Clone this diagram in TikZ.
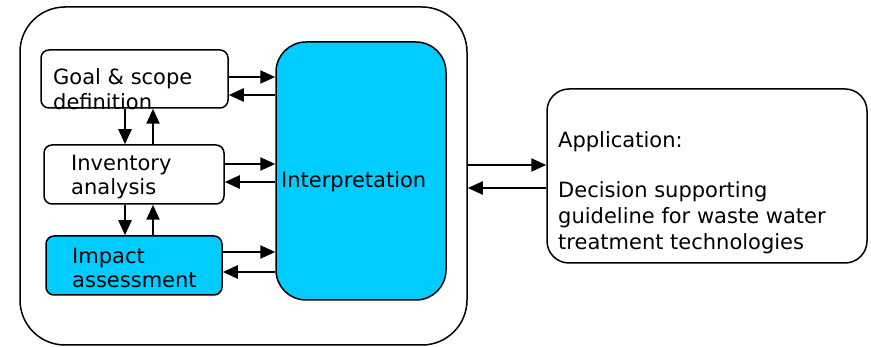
\documentclass[tikz,border=0pt]{standalone}
\usepackage{fontspec}
\setmainfont{DejaVu Sans}
\usetikzlibrary{arrows.meta}
\definecolor{lcacyan}{HTML}{00CCFF}
\begin{document}
\begin{tikzpicture}[x=1pt,y=-1pt,
  box/.style={draw=black,line width=1.5pt,rounded corners=#1,inner sep=0pt},
  box/.default=8pt,
  lbl/.style={anchor=west,inner sep=0pt,align=left,font=\fontsize{21}{24.5}\selectfont},
  flow/.style={line width=2.3pt,-{Triangle[length=15pt,width=13pt]}}]
\useasboundingbox (0,0) rectangle (871,347);

% outer LCA frame
\node[box=45pt,minimum width=447pt,minimum height=338pt] (frame) at (243.5,176) {};

% phase boxes
\node[box,minimum width=187pt,minimum height=58pt] (goal) at (134.5,79) {};
\node[box,minimum width=180pt,minimum height=59pt] (inv) at (134,174.5) {};
\node[box,fill=lcacyan,minimum width=176pt,minimum height=59pt] (imp) at (134,265.5) {};
\node[box=30pt,fill=lcacyan,minimum width=170pt,minimum height=258pt] (interp) at (361,171) {};
\node[box=22pt,minimum width=320pt,minimum height=174pt] (app) at (707,176) {};

% labels
\node[lbl] (goaltxt) at (53,89) {Goal \& scope\\definition};
\node[lbl] (invtxt) at (71,177) {Inventory\\analysis};
\node[lbl] (imptxt) at (72,268) {Impact\\assessment};
\node[lbl] (inttxt) at (281,182) {Interpretation};
\node[lbl,font=\fontsize{21}{26}\selectfont] (apptxt) at (558,193)
  {Application:\\[24pt]Decision supporting\\guideline for waste water\\treatment technologies};

% phase <-> interpretation
\draw[flow] (goal.east |- 0,77) -- (interp.west |- 0,77);
\draw[flow] (interp.west |- 0,95) -- (goal.east |- 0,95);
\draw[flow] (inv.east |- 0,164) -- (interp.west |- 0,164);
\draw[flow] (interp.west |- 0,182) -- (inv.east |- 0,182);
\draw[flow] (imp.east |- 0,252) -- (interp.west |- 0,252);
\draw[flow] (interp.west |- 0,272) -- (imp.east |- 0,272);

% phase <-> phase
\draw[flow] (goal.south -| 125,0) -- (inv.north -| 125,0);
\draw[flow] (inv.north -| 153,0) -- (goal.south -| 153,0);
\draw[flow] (inv.south -| 125,0) -- (imp.north -| 125,0);
\draw[flow] (imp.north -| 153,0) -- (inv.south -| 153,0);

% frame <-> application
\draw[flow] (frame.east |- 0,165) -- (app.west |- 0,165);
\draw[flow] (app.west |- 0,188) -- (frame.east |- 0,188);
\end{tikzpicture}
\end{document}
